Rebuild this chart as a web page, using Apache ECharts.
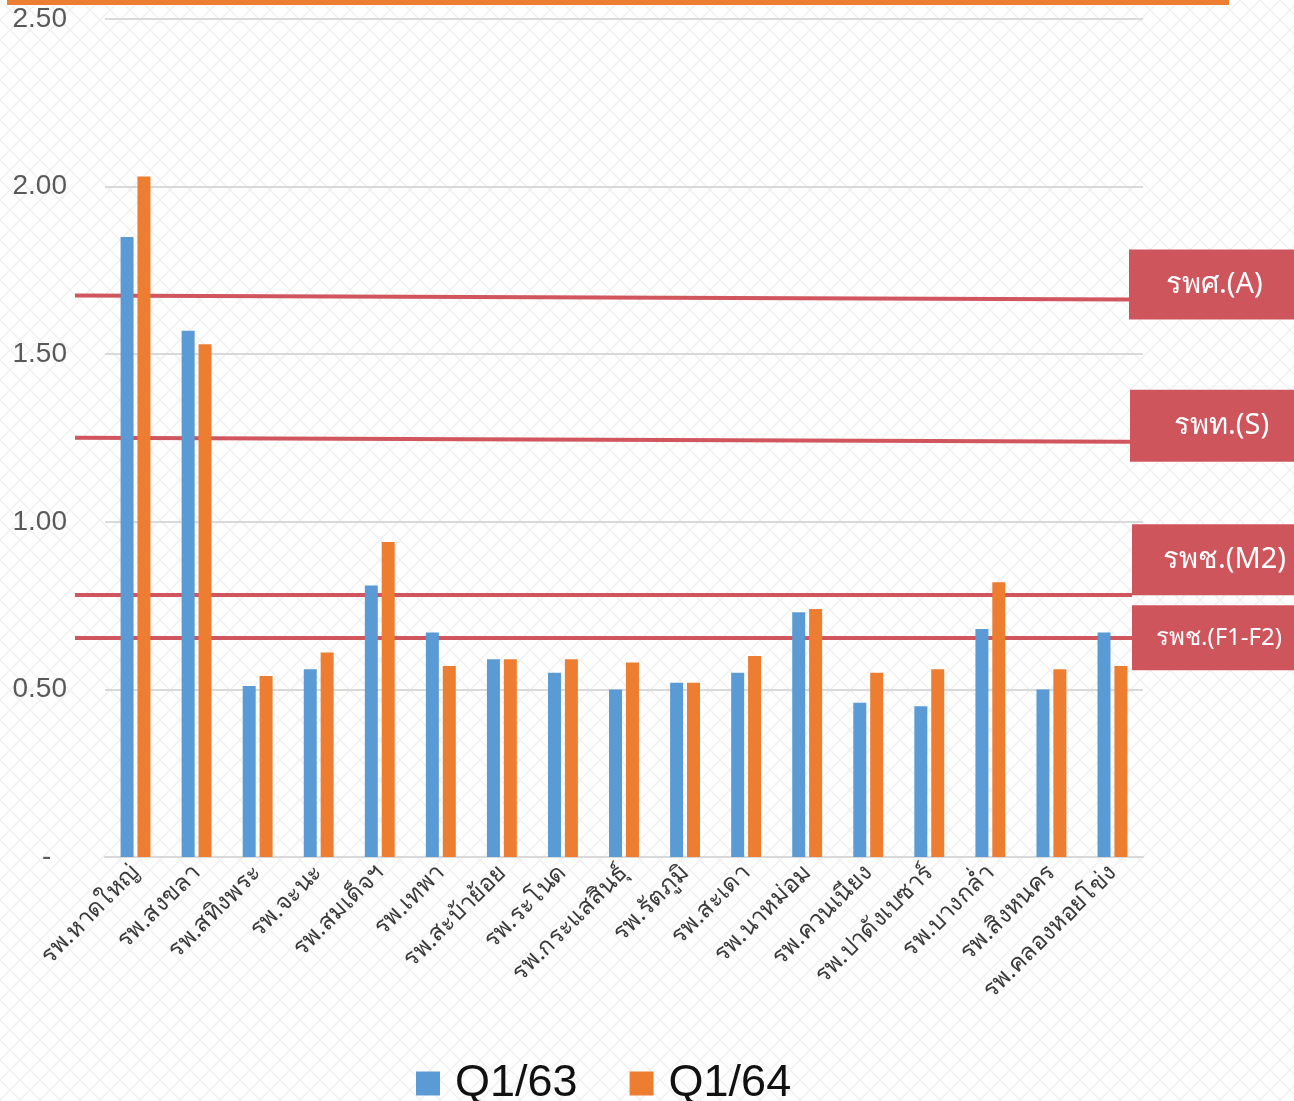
<!DOCTYPE html>
<html>
<head>
<meta charset="utf-8">
<script src="https://cdn.jsdelivr.net/npm/echarts@6/dist/echarts.min.js"></script>
<style>
  html, body { margin: 0; padding: 0; background: #fff; }
  #chart { width: 1294px; height: 1101px; }
</style>
</head>
<body>
<div id="chart"></div>
<script>
var hospitals = ['รพ.หาดใหญ่','รพ.สงขลา','รพ.สทิงพระ','รพ.จะนะ','รพ.สมเด็จฯ','รพ.เทพา','รพ.สะบ้าย้อย','รพ.ระโนด',
  'รพ.กระแสสินธุ์','รพ.รัตภูมิ','รพ.สะเดา','รพ.นาหม่อม','รพ.ควนเนียง','รพ.ปาดังเบซาร์','รพ.บางกล่ำ','รพ.สิงหนคร','รพ.คลองหอยโข่ง'];
var q163 = [1.85, 1.57, 0.51, 0.56, 0.81, 0.67, 0.59, 0.55, 0.50, 0.52, 0.55, 0.73, 0.46, 0.45, 0.68, 0.50, 0.67];
var q164 = [2.03, 1.53, 0.54, 0.61, 0.94, 0.57, 0.59, 0.59, 0.58, 0.52, 0.60, 0.74, 0.55, 0.56, 0.82, 0.56, 0.57];

// เกณฑ์ตามระดับโรงพยาบาล (ค่าต้นเส้น / ปลายเส้น)
var levelNames = ['รพศ.(A)', 'รพท.(S)', 'รพช.(M2)', 'รพช.(F1-F2)'];
var levelStart = [1.675, 1.251, 0.782, 0.654];
var levelEnd   = [1.663, 1.239, 0.782, 0.654];

var boxStyle = [
  {offset: [0, -15], padding: [0, 60, 0, 37], fontSize: 29, height: 70, endX: 1129},
  {offset: [0, -16], padding: [0, 60, 0, 44], fontSize: 29, height: 72, endX: 1130},
  {offset: [0, -35], padding: [0, 60, 0, 31], fontSize: 29, height: 71, endX: 1132},
  {offset: [0, 0],   padding: [0, 60, 0, 24], fontSize: 24, height: 65, endX: 1132}
];

var lines = [];
for (var i = 0; i < levelNames.length; i++) {
  var b = boxStyle[i];
  lines.push([
    {
      x: 75, yAxis: levelStart[i],
      label: {
        show: true, position: 'end', distance: 0,
        formatter: levelNames[i],
        color: '#fff', fontSize: b.fontSize,
        fontFamily: 'Noto Sans, sans-serif',
        backgroundColor: '#CF555D',
        height: b.height, lineHeight: b.height,
        padding: b.padding, offset: b.offset
      }
    },
    {x: b.endX, yAxis: levelEnd[i]}
  ]);
}

// พื้นหลังลายตาราง
var pat = document.createElement('canvas');
pat.width = 20; pat.height = 20;
var ctx = pat.getContext('2d');
ctx.fillStyle = '#ffffff';
ctx.fillRect(0, 0, 20, 20);
ctx.strokeStyle = '#f0f0f0';
ctx.lineWidth = 1.5;
ctx.beginPath();
ctx.moveTo(0, 0); ctx.lineTo(20, 20);
ctx.moveTo(20, 0); ctx.lineTo(0, 20);
ctx.stroke();

var myChart = echarts.init(document.getElementById('chart'));
var option = {
  backgroundColor: {image: pat, repeat: 'repeat'},
  animation: false,
  graphic: [{
    type: 'rect', left: 7, top: 0,
    shape: {width: 1222, height: 5},
    style: {fill: '#ED7D31'}
  }],
  legend: {
    data: ['Q1/63', 'Q1/64'],
    left: 411, top: 1056,
    icon: 'rect', itemWidth: 24, itemHeight: 24, itemGap: 52,
    textStyle: {fontSize: 45, color: '#111', fontFamily: 'Liberation Sans, sans-serif', padding: [0, 0, 0, 10]}
  },
  grid: {left: 105, right: 151, top: 19, bottom: 244},
  xAxis: {
    type: 'category',
    data: hospitals,
    axisLine: {lineStyle: {color: '#d9d9d9', width: 2}},
    axisTick: {show: false},
    axisLabel: {
      interval: 0, rotate: 45, fontSize: 24, color: '#3a3a3a', margin: 12,
      fontFamily: 'Noto Sans, sans-serif'
    }
  },
  yAxis: {
    type: 'value',
    min: 0, max: 2.5, interval: 0.5,
    axisLine: {show: false},
    axisTick: {show: false},
    splitLine: {lineStyle: {color: '#d9d9d9', width: 2}},
    axisLabel: {
      fontSize: 28, color: '#595959', margin: 38,
      fontFamily: 'Liberation Sans, sans-serif',
      formatter: function (v) { return v === 0 ? '-  ' : v.toFixed(2); }
    }
  },
  series: [
    {
      name: 'Q1/63', type: 'bar', data: q163,
      barWidth: 13, barGap: '30%',
      itemStyle: {color: '#5B9BD5'},
      markLine: {
        silent: true, z: 1,
        symbol: ['none', 'none'],
        lineStyle: {color: '#D0555D', width: 4, type: 'solid'},
        data: lines
      }
    },
    {
      name: 'Q1/64', type: 'bar', data: q164,
      barWidth: 13,
      itemStyle: {color: '#ED7D31'}
    }
  ]
};
myChart.setOption(option);
</script>
</body>
</html>
